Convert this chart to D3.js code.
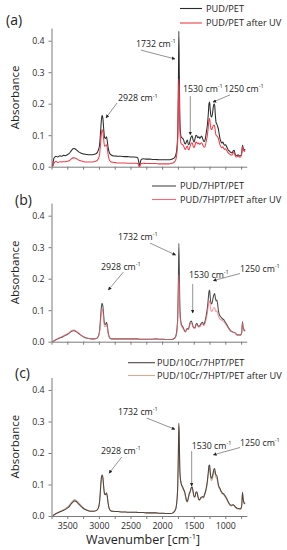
<!DOCTYPE html>
<html><head><meta charset="utf-8">
<script src="https://cdn.jsdelivr.net/npm/d3@7"></script>
<style>html,body{margin:0;padding:0;background:#fff;} svg{display:block;font-family:"Open Sans",sans-serif;}</style>
</head><body><svg id="c" width="287" height="550"></svg>
<script>
// ---------- DATA ----------
const wavenumbers = [3730,3715,3700,3680,3650,3620,3590,3560,3530,3500,3470,3440,3410,3390,3360,3320,3280,3240,3200,3160,3120,3080,3040,3010,
2990,2975,2962,2950,2938,2925,2910,2895,2880,2868,2855,2840,2825,2805,2780,
2740,2700,2650,2600,2550,2500,2450,2410,2385,2370,2360,2350,2340,2325,2300,2250,2200,2150,2100,2050,2000,1950,1900,1860,1830,1800,
1780,1765,1752,1742,1735,1728,1720,1710,1700,1690,
1675,1660,1645,1630,1615,1600,1585,1570,1555,1540,1525,1510,1495,1480,1465,1450,1435,1420,1405,1390,1375,1360,1345,1330,1315,1300,1285,
1270,1258,1248,1238,1226,1214,1202,1190,1178,1168,1158,1146,1134,1122,1110,1098,
1085,1070,1055,1040,1025,1010,995,980,965,950,935,920,905,890,875,860,845,830,815,800,785,770,755,740,728,718,708,698,688];

const pudPet = [0.002,0.025,0.030,0.033,0.031,0.035,0.033,0.036,0.035,0.038,0.042,0.050,0.057,0.058,0.054,0.047,0.043,0.040,0.039,0.038,0.038,0.039,0.042,0.052,
0.068,0.105,0.145,0.163,0.155,0.122,0.092,0.090,0.095,0.082,0.062,0.048,0.041,0.037,0.035,
0.034,0.033,0.033,0.032,0.032,0.031,0.031,0.030,0.028,0.015,0.004,0.008,0.018,0.024,0.025,0.024,0.024,0.023,0.023,0.022,0.022,0.022,0.022,0.023,0.025,0.030,
0.040,0.060,0.110,0.270,0.430,0.300,0.160,0.110,0.095,0.092,
0.090,0.085,0.075,0.072,0.080,0.085,0.070,0.072,0.085,0.095,0.098,0.085,0.078,0.088,0.100,0.098,0.092,0.095,0.090,0.094,0.097,0.090,0.082,0.080,0.090,0.110,0.130,
0.165,0.200,0.205,0.180,0.160,0.158,0.170,0.190,0.200,0.195,0.165,0.140,0.135,0.128,0.120,0.105,
0.090,0.080,0.075,0.078,0.072,0.068,0.070,0.064,0.058,0.052,0.050,0.046,0.044,0.045,0.050,0.052,0.040,0.036,0.035,0.038,0.036,0.034,0.035,0.045,0.068,0.060,0.055,0.052,0.056];

const pudPetUV = [0.000,0.010,0.014,0.017,0.013,0.016,0.015,0.016,0.016,0.017,0.019,0.024,0.028,0.028,0.026,0.021,0.018,0.016,0.015,0.015,0.015,0.016,0.018,0.025,
0.038,0.070,0.104,0.117,0.112,0.088,0.065,0.066,0.070,0.060,0.040,0.025,0.018,0.015,0.014,
0.013,0.012,0.012,0.012,0.011,0.011,0.011,0.011,0.010,0.004,0.000,0.002,0.007,0.010,0.011,0.010,0.010,0.010,0.010,0.009,0.009,0.009,0.009,0.010,0.012,0.016,
0.025,0.045,0.090,0.200,0.278,0.220,0.125,0.085,0.074,0.072,
0.070,0.066,0.058,0.055,0.062,0.066,0.054,0.056,0.066,0.074,0.076,0.066,0.060,0.068,0.078,0.077,0.072,0.075,0.071,0.074,0.076,0.070,0.064,0.062,0.068,0.083,0.098,
0.125,0.150,0.153,0.135,0.120,0.118,0.125,0.130,0.132,0.128,0.112,0.100,0.098,0.095,0.090,0.080,
0.070,0.064,0.060,0.063,0.058,0.055,0.057,0.052,0.047,0.043,0.041,0.038,0.037,0.038,0.043,0.046,0.035,0.031,0.031,0.034,0.032,0.030,0.031,0.041,0.063,0.056,0.051,0.048,0.052];

const hptPet = [0.000,0.002,0.004,0.006,0.009,0.012,0.014,0.017,0.020,0.023,0.027,0.032,0.035,0.035,0.032,0.026,0.020,0.015,0.012,0.010,0.009,0.009,0.010,0.017,
0.034,0.072,0.108,0.122,0.115,0.085,0.056,0.055,0.062,0.052,0.032,0.017,0.011,0.009,0.009,
0.009,0.009,0.009,0.009,0.009,0.009,0.009,0.009,0.009,0.008,0.008,0.008,0.008,0.008,0.008,0.008,0.008,0.008,0.009,0.008,0.008,0.007,0.007,0.007,0.008,0.012,
0.020,0.040,0.085,0.200,0.312,0.230,0.120,0.075,0.060,0.053,
0.048,0.042,0.035,0.032,0.038,0.042,0.040,0.050,0.062,0.066,0.060,0.048,0.045,0.044,0.055,0.058,0.052,0.048,0.050,0.055,0.060,0.062,0.055,0.058,0.070,0.085,0.105,
0.135,0.160,0.164,0.140,0.122,0.120,0.130,0.142,0.150,0.153,0.140,0.130,0.132,0.120,0.100,0.088,
0.082,0.078,0.075,0.072,0.070,0.065,0.060,0.055,0.050,0.044,0.040,0.036,0.033,0.032,0.030,0.030,0.028,0.025,0.022,0.021,0.022,0.021,0.022,0.030,0.063,0.045,0.040,0.035,0.037];

const hptPetUV = [0.000,0.003,0.005,0.007,0.010,0.013,0.016,0.019,0.022,0.025,0.029,0.034,0.037,0.037,0.034,0.028,0.021,0.016,0.012,0.010,0.009,0.009,0.010,0.016,
0.030,0.060,0.092,0.103,0.098,0.072,0.048,0.048,0.055,0.046,0.028,0.016,0.011,0.009,0.009,
0.009,0.009,0.009,0.009,0.009,0.009,0.009,0.009,0.009,0.008,0.008,0.008,0.008,0.008,0.008,0.008,0.008,0.008,0.009,0.008,0.008,0.007,0.007,0.007,0.008,0.011,
0.018,0.035,0.075,0.160,0.212,0.170,0.100,0.066,0.054,0.048,
0.044,0.039,0.033,0.031,0.036,0.040,0.038,0.047,0.057,0.060,0.055,0.045,0.043,0.042,0.051,0.054,0.049,0.046,0.047,0.051,0.055,0.057,0.051,0.053,0.062,0.074,0.090,
0.112,0.128,0.130,0.112,0.098,0.096,0.100,0.106,0.108,0.108,0.100,0.095,0.098,0.092,0.082,0.075,
0.072,0.070,0.068,0.066,0.064,0.060,0.056,0.051,0.047,0.042,0.038,0.034,0.032,0.031,0.029,0.029,0.027,0.024,0.021,0.020,0.021,0.020,0.021,0.029,0.060,0.043,0.038,0.034,0.036];

const crHptPet = [0.001,0.003,0.005,0.007,0.010,0.013,0.015,0.018,0.021,0.025,0.030,0.038,0.045,0.048,0.046,0.038,0.030,0.023,0.019,0.016,0.015,0.015,0.017,0.025,
0.045,0.085,0.120,0.130,0.124,0.095,0.070,0.068,0.074,0.064,0.042,0.026,0.019,0.016,0.015,
0.014,0.014,0.013,0.013,0.012,0.012,0.012,0.012,0.011,0.011,0.011,0.011,0.011,0.011,0.011,0.010,0.010,0.010,0.010,0.009,0.009,0.008,0.008,0.008,0.010,0.016,
0.026,0.050,0.100,0.210,0.294,0.240,0.150,0.118,0.105,0.098,
0.092,0.085,0.078,0.065,0.050,0.046,0.058,0.072,0.078,0.090,0.093,0.078,0.062,0.062,0.075,0.077,0.065,0.052,0.052,0.058,0.060,0.062,0.060,0.068,0.077,0.090,0.110,
0.138,0.160,0.162,0.140,0.122,0.120,0.128,0.140,0.150,0.151,0.138,0.130,0.128,0.115,0.100,0.092,
0.088,0.080,0.075,0.072,0.070,0.066,0.062,0.056,0.050,0.044,0.038,0.035,0.034,0.035,0.036,0.034,0.030,0.027,0.025,0.024,0.024,0.023,0.024,0.034,0.075,0.055,0.045,0.040,0.042];

const crHptPetUV = [0.001,0.003,0.005,0.008,0.011,0.014,0.017,0.020,0.024,0.028,0.034,0.042,0.049,0.052,0.050,0.042,0.033,0.025,0.020,0.017,0.016,0.016,0.018,0.025,
0.043,0.080,0.114,0.124,0.119,0.092,0.068,0.067,0.072,0.062,0.042,0.026,0.019,0.016,0.015,
0.014,0.014,0.013,0.013,0.012,0.012,0.012,0.012,0.011,0.011,0.011,0.011,0.011,0.011,0.011,0.010,0.010,0.010,0.010,0.009,0.009,0.008,0.008,0.008,0.010,0.016,
0.026,0.049,0.098,0.205,0.288,0.236,0.148,0.116,0.103,0.096,
0.089,0.082,0.075,0.062,0.048,0.044,0.055,0.069,0.075,0.087,0.090,0.075,0.059,0.059,0.072,0.074,0.062,0.050,0.050,0.055,0.057,0.059,0.057,0.065,0.073,0.085,0.104,
0.130,0.151,0.153,0.132,0.115,0.113,0.120,0.131,0.140,0.142,0.130,0.122,0.120,0.108,0.095,0.088,
0.085,0.077,0.072,0.069,0.067,0.063,0.059,0.053,0.047,0.041,0.036,0.033,0.032,0.033,0.034,0.032,0.028,0.025,0.023,0.022,0.022,0.021,0.022,0.032,0.072,0.052,0.043,0.038,0.040];

const seriesNames = [["PUD/PET","PUD/PET after UV"],["PUD/7HPT/PET","PUD/7HPT/PET after UV"],["PUD/10Cr/7HPT/PET","PUD/10Cr/7HPT/PET after UV"]];
const panelLabels = ["(a)","(b)","(c)"];
const yTickValues = [0,0.1,0.2,0.3,0.4];
const xTickValues = [3750,3500,3250,3000,2750,2500,2250,2000,1750,1500,1250,1000,750];
const xTickLabels = [3500,3000,2500,2000,1500,1000];

// ---------- LAYOUT ----------
const svg = d3.select("#c");
const x = d3.scaleLinear().domain([3750,660]).range([51.5,246.8]);
const pxPerUnit = 315;
const yTop = 0.44;

const panels = [
  {zero:166.7, series:[pudPet,pudPetUV], colors:["#2a2a2a","#f03c4a"], uvOpacity:1, uvFirst:false,
   lab:{x:6,y:24.5}, leg:{x1:180,x2:202,y:8.5,dy:14.5,tx:206},
   ann:[{t:"2928",tx:2698,ty:0.207,a:[2714,0.202,2888,0.155]},
        {t:"1732",tx:2413,ty:0.380,a:[2334,0.370,1796,0.342]},
        {t:"1530",tx:1669,ty:0.236,a:[1554,0.224,1554,0.101]},
        {t:"1250",tx:1021,ty:0.236,a:[926,0.228,1195,0.205]}]},
  {zero:341.7, series:[hptPet,hptPetUV], colors:["#4a4a4a","#f26a78"], uvOpacity:0.7, uvFirst:false,
   lab:{x:15,y:205}, leg:{x1:152,x2:176,y:186,dy:13.5,tx:180},
   ann:[{t:"2928",tx:2967,ty:0.228,a:[2614,0.221,2851,0.164]},
        {t:"1732",tx:2698,ty:0.323,a:[2191,0.313,1785,0.275]},
        {t:"1530",tx:1574,ty:0.201,a:[1516,0.183,1516,0.091]},
        {t:"1250",tx:767,ty:0.220,a:[767,0.2165,1190,0.194]}]},
  {zero:516, series:[crHptPet,crHptPetUV], colors:["#4f4440","#cfae94"], uvOpacity:1, uvFirst:true,
   lab:{x:15,y:378}, leg:{x1:128,x2:155,y:362.7,dy:12.8,tx:157},
   ann:[{t:"2928",tx:2967,ty:0.198,a:[2639,0.187,2840,0.1355]},
        {t:"1732",tx:2698,ty:0.321,a:[2244,0.311,1796,0.275]},
        {t:"1530",tx:1532,ty:0.214,a:[1532,0.206,1532,0.095]},
        {t:"1250",tx:767,ty:0.222,a:[767,0.2175,1190,0.194]}]}
];

svg.append("defs").append("marker")
  .attr("id","arr").attr("viewBox","0 0 10 10").attr("refX",9).attr("refY",5)
  .attr("markerWidth",4.5).attr("markerHeight",4.5).attr("orient","auto")
  .append("path").attr("d","M0,0 L10,5 L0,10 Z").attr("fill","#222");

function supText(sel, base, sup, fs, supFs){
  sel.append("tspan").text(base);
  sel.append("tspan").attr("dy",-fs*0.45).attr("font-size",supFs).text(sup);
}

panels.forEach((p,pi)=>{
  const y = d3.scaleLinear().domain([0,yTop]).range([p.zero, p.zero - yTop*pxPerUnit]);
  const g = svg.append("g");

  const xa = d3.axisBottom(x).tickValues(xTickValues).tickSize(3).tickSizeOuter(0)
    .tickFormat(d => (pi===2 && xTickLabels.includes(d)) ? d : "");
  const gx = g.append("g").attr("transform",`translate(0,${p.zero})`).call(xa);
  const ya = d3.axisLeft(y).tickValues(yTickValues).tickSize(3).tickSizeOuter(0).tickFormat(d3.format(".1f"));
  const gy = g.append("g").attr("transform",`translate(${x.range()[0]},0)`).call(ya);
  [gx,gy].forEach(a=>{
    a.select(".domain").attr("stroke","#7a7a7a");
    a.selectAll(".tick line").attr("stroke","#7a7a7a");
    a.selectAll(".tick text").attr("fill","#2a2a2a").attr("font-size",8.8).attr("font-family","Open Sans");
  });
  gx.selectAll(".tick text").attr("dy","0.85em");
  gy.selectAll(".tick text").attr("dx","-0.1em");

  g.append("text").attr("transform",`translate(18.5,${y(0.22)}) rotate(-90)`)
    .attr("text-anchor","middle").attr("font-size",11.5).attr("fill","#222").text("Absorbance");

  const line = d3.line().x((d,i)=>x(wavenumbers[i])).y(d=>y(d)).curve(d3.curveMonotoneX);
  const order = p.uvFirst ? [1,0] : [0,1];
  order.forEach(k=>{
    g.append("path").datum(p.series[k]).attr("d",line).attr("fill","none")
      .attr("stroke",p.colors[k]).attr("stroke-width",1.05)
      .attr("stroke-opacity", k===1 ? p.uvOpacity : 1);
  });

  g.append("text").attr("x",p.lab.x).attr("y",p.lab.y).attr("font-size",14).attr("fill","#222").text(panelLabels[pi]);

  seriesNames[pi].forEach((n,k)=>{
    const yy = p.leg.y + k*p.leg.dy;
    g.append("line").attr("x1",p.leg.x1).attr("x2",p.leg.x2).attr("y1",yy).attr("y2",yy)
      .attr("stroke",p.colors[k]).attr("stroke-width",1.1);
    g.append("text").attr("x",p.leg.tx).attr("y",yy+3.2).attr("font-size",9.2).attr("fill","#222").text(n);
  });

  p.ann.forEach(a=>{
    const t = g.append("text").attr("x",x(a.tx)).attr("y",y(a.ty)).attr("font-size",8.8).attr("fill","#222");
    supText(t, a.t+" cm", "-1", 8.8, 5.5);
    g.append("line").attr("x1",x(a.a[0])).attr("y1",y(a.a[1])).attr("x2",x(a.a[2])).attr("y2",y(a.a[3]))
      .attr("stroke","#777").attr("stroke-width",0.8).attr("marker-end","url(#arr)");
  });

  if(pi===2){
    const t = g.append("text").attr("x",143).attr("y",p.zero+28).attr("text-anchor","middle")
      .attr("font-size",12.5).attr("fill","#222");
    t.append("tspan").text("Wavenumber [cm");
    t.append("tspan").attr("dy",-5).attr("font-size",7.5).text("-1");
    t.append("tspan").attr("dy",5).text("]");
  }
});
</script></body></html>
